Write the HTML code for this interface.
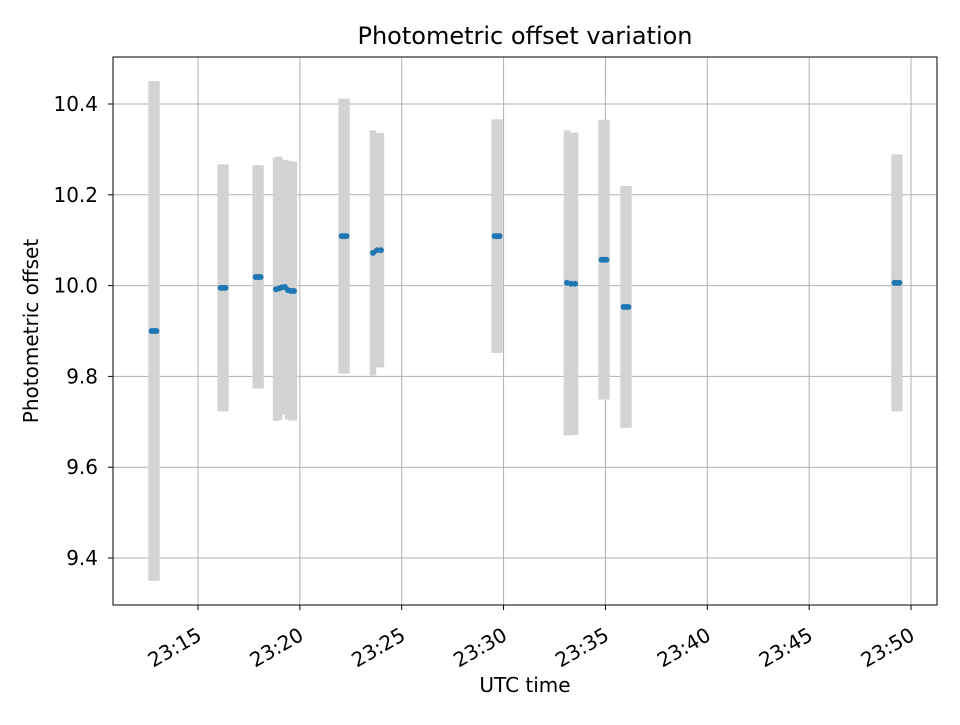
<!DOCTYPE html>
<html><head><meta charset="utf-8"><style>
body{margin:0;background:#fff;font-family:"Liberation Sans","DejaVu Sans",sans-serif}
svg text{font-family:"DejaVu Sans","Liberation Sans",sans-serif}
</style></head><body>
<svg id="chart" width="960" height="720" xmlns="http://www.w3.org/2000/svg">
<rect x="0" y="0" width="960" height="720" fill="#fff"/>
<g id="grid"></g>
<g id="bars"></g>
<g id="pts"></g>
<rect x="113" y="57" width="824" height="548" fill="none" stroke="#000" stroke-width="1"/>
<g id="ticks"></g>
<text x="525" y="44" text-anchor="middle" font-size="24">Photometric offset variation</text>
<text x="525" y="692" text-anchor="middle" font-size="20">UTC time</text>
<text transform="translate(38,331) rotate(-90)" text-anchor="middle" font-size="20">Photometric offset</text>
</svg>
<script>
// minutes after 23:00
const times = [12.72,12.84,12.96, 16.11,16.23,16.35, 17.83,17.95,18.07,
  18.83,18.98,19.12,19.27,19.42,19.57,19.71, 22.05,22.17,22.29,
  23.59,23.79,23.98, 29.56,29.68,29.80, 33.11,33.31,33.51,
  34.81,34.93,35.05, 35.89,36.01,36.13, 49.19,49.31,49.43];
const values = [9.900,9.900,9.900, 9.995,9.995,9.995, 10.019,10.019,10.019,
  9.992,9.994,9.996,9.997,9.990,9.988,9.988, 10.109,10.109,10.109,
  10.072,10.078,10.078, 10.109,10.109,10.109, 10.006,10.004,10.004,
  10.057,10.057,10.057, 9.953,9.953,9.953, 10.006,10.006,10.006];
const errors = [0.55,0.55,0.55, 0.272,0.272,0.272, 0.246,0.246,0.246,
  0.29,0.29,0.28,0.28,0.285,0.285,0.285, 0.303,0.303,0.303,
  0.27,0.258,0.258, 0.257,0.257,0.257, 0.336,0.333,0.333,
  0.308,0.308,0.308, 0.266,0.266,0.266, 0.283,0.283,0.283];
const yTicks = [9.4,9.6,9.8,10.0,10.2,10.4];
const xTicks = [15,20,25,30,35,40,45,50];
const xTickLabels = ["23:15","23:20","23:25","23:30","23:35","23:40","23:45","23:50"];

const NS="http://www.w3.org/2000/svg";
const L=113,R=937,T=57,B=605;
function xs(t){return 198+(t-15)*(713/35);}
function ys(v){return 104+(10.4-v)*454;}
function mk(tag,attrs,parent){const e=document.createElementNS(NS,tag);for(const k in attrs)e.setAttribute(k,attrs[k]);document.getElementById(parent).appendChild(e);return e;}

yTicks.forEach((v,i)=>{
  const y=ys(v);
  const g=mk('line',{x1:L,x2:R,y1:y,y2:y,stroke:'#b0b0b0','stroke-width':1},'grid');
  
  
  const tk=mk('line',{x1:L-5,x2:L,y1:y,y2:y,stroke:'#000'},'ticks');
  
  
  const tx=mk('text',{x:L-15,y:y+7,'text-anchor':'end','font-size':'20'},'ticks');
  tx.textContent=v.toFixed(1);
  
  
});
xTicks.forEach((t,i)=>{
  const x=xs(t);
  const g=mk('line',{x1:x,x2:x,y1:T,y2:B,stroke:'#b0b0b0','stroke-width':1},'grid');
  
  
  const tk=mk('line',{x1:x,x2:x,y1:B,y2:B+5,stroke:'#000'},'ticks');
  
  
  const tx=mk('text',{transform:`translate(${x+5},${B+34}) rotate(-30)`,'text-anchor':'end','font-size':'20'},'ticks');
  tx.textContent=xTickLabels[i];
  
  
});
times.forEach((t,i)=>{
  const x=xs(t);
  const b=mk('line',{x1:x,x2:x,y1:ys(values[i]+errors[i]),y2:ys(values[i]-errors[i]),stroke:'#d3d3d3','stroke-width':6.5},'bars');
  
  
});
times.forEach((t,i)=>{
  const c=mk('circle',{cx:xs(t),cy:ys(values[i]),r:3,fill:'#1f77b4'},'pts');
  
  
});
</script>
</body></html>
